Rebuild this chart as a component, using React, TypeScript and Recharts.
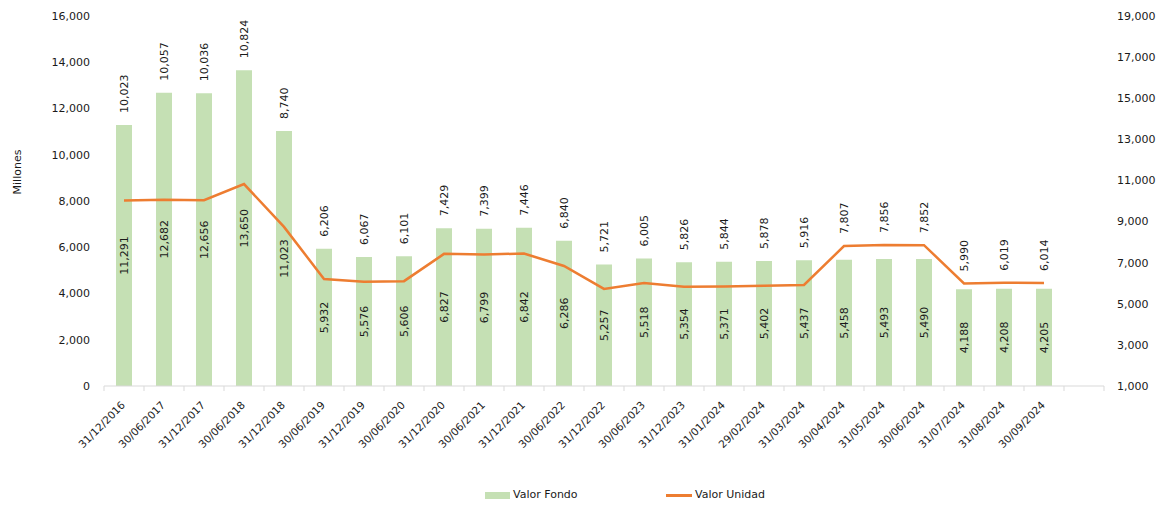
import React from 'react';
import { ComposedChart, Bar, Line, XAxis, YAxis, LabelList, Legend } from 'recharts';

const categories = [
  '31/12/2016', '30/06/2017', '31/12/2017', '30/06/2018', '31/12/2018', '30/06/2019',
  '31/12/2019', '30/06/2020', '31/12/2020', '30/06/2021', '31/12/2021', '30/06/2022',
  '31/12/2022', '30/06/2023', '31/12/2023', '31/01/2024', '29/02/2024', '31/03/2024',
  '30/04/2024', '31/05/2024', '30/06/2024', '31/07/2024', '31/08/2024', '30/09/2024', '',
];
const valorFondo = [
  11291, 12682, 12656, 13650, 11023, 5932, 5576, 5606, 6827, 6799, 6842, 6286,
  5257, 5518, 5354, 5371, 5402, 5437, 5458, 5493, 5490, 4188, 4208, 4205,
];
const valorUnidad = [
  10023, 10057, 10036, 10824, 8740, 6206, 6067, 6101, 7429, 7399, 7446, 6840,
  5721, 6005, 5826, 5844, 5878, 5916, 7807, 7856, 7852, 5990, 6019, 6014,
];
const leftTicks = [0, 2000, 4000, 6000, 8000, 10000, 12000, 14000, 16000];
const rightTicks = [1000, 3000, 5000, 7000, 9000, 11000, 13000, 15000, 17000, 19000];

const data = categories.map((c, i) => ({
  name: c,
  fondo: valorFondo[i],
  unidad: valorUnidad[i],
}));

const W = 1166;
const H = 508;
const TOP = 16;
const LEFT_W = 104;
const RIGHT_W = 62;
const XAXIS_H = 82;
const LEGEND_H = 40;
const PLOT_W = W - LEFT_W - RIGHT_W;
const PLOT_BOTTOM = H - XAXIS_H - LEGEND_H;
const PLOT_H = PLOT_BOTTOM - TOP;
const BAND = PLOT_W / categories.length;
const LEFT_MAX = leftTicks[leftTicks.length - 1];

const FONT = '"DejaVu Sans", Verdana, sans-serif';
const TEXT = '#1a1a1a';
const fmt = (v: number) => v.toLocaleString('en-US');

const XTick = (props: any) => {
  const { x, y, payload, index } = props;
  const half = BAND / 2;
  return (
    <g>
      <line x1={x - half} x2={x - half} y1={y} y2={y + 5} stroke="#D9D9D9" />
      {index === categories.length - 1 && (
        <line x1={x + half} x2={x + half} y1={y} y2={y + 5} stroke="#D9D9D9" />
      )}
      {payload.value !== '' && (
        <text
          transform={`translate(${x - 1},${y + 17}) rotate(-45)`}
          textAnchor="end"
          dominantBaseline="central"
          fontSize={10.5}
          fill={TEXT}
          fontFamily={FONT}
        >
          {payload.value}
        </text>
      )}
    </g>
  );
};

const BarLabel = (props: any) => {
  const { x, y, width, height, value } = props;
  if (value == null) return null;
  return (
    <text
      transform={`translate(${x + width / 2},${y + height / 2}) rotate(-90)`}
      textAnchor="middle"
      dominantBaseline="central"
      fontSize={11}
      fill={TEXT}
      fontFamily={FONT}
    >
      {fmt(value)}
    </text>
  );
};

const LineLabel = (props: any) => {
  const { x, y, value, index } = props;
  if (value == null) return null;
  const barTop = PLOT_BOTTOM - (valorFondo[index] / LEFT_MAX) * PLOT_H;
  const bottom = Math.min(y, barTop) - 12;
  return (
    <text
      transform={`translate(${x},${bottom}) rotate(-90)`}
      textAnchor="start"
      dominantBaseline="central"
      fontSize={11}
      fill={TEXT}
      fontFamily={FONT}
    >
      {fmt(value)}
    </text>
  );
};

const MillonesLabel = (props: any) => {
  const vb = props.viewBox || { x: 0, y: TOP };
  return (
    <text
      transform={`translate(${vb.x + 17},${vb.y + 156}) rotate(-90)`}
      textAnchor="middle"
      dominantBaseline="central"
      fontSize={11}
      fill={TEXT}
      fontFamily={FONT}
    >
      Millones
    </text>
  );
};

const LegendContent = () => (
  <div style={{ position: 'relative', width: W, height: LEGEND_H, fontFamily: FONT, fontSize: 11, color: TEXT }}>
    <div style={{ position: 'absolute', left: 485, top: 24, width: 25, height: 7, background: '#C5E0B4' }} />
    <div style={{ position: 'absolute', left: 513, top: 20, lineHeight: '14px' }}>Valor Fondo</div>
    <div style={{ position: 'absolute', left: 666, top: 26, width: 26, height: 3, background: '#ED7D31' }} />
    <div style={{ position: 'absolute', left: 695, top: 20, lineHeight: '14px' }}>Valor Unidad</div>
  </div>
);

export default function App() {
  return (
    <div style={{ position: 'absolute', left: 0, top: 0, width: W, height: H, background: '#fff' }}>
      <ComposedChart
        width={W}
        height={H}
        data={data}
        margin={{ top: TOP, right: 0, left: 0, bottom: 0 }}
        barCategoryGap={0}
        style={{ fontFamily: FONT }}
      >
        <XAxis
          dataKey="name"
          interval={0}
          height={XAXIS_H}
          axisLine={{ stroke: '#D9D9D9' }}
          tickLine={false}
          tickSize={0}
          tickMargin={0}
          tick={<XTick />}
        />
        <YAxis
          yAxisId="left"
          orientation="left"
          width={LEFT_W}
          domain={[0, LEFT_MAX]}
          ticks={leftTicks}
          interval={0}
          axisLine={false}
          tickLine={false}
          tickSize={0}
          tickMargin={14}
          tickFormatter={fmt}
          tick={{ fontSize: 11, fill: TEXT, fontFamily: FONT }}
          label={<MillonesLabel />}
        />
        <YAxis
          yAxisId="right"
          orientation="right"
          width={RIGHT_W}
          domain={[1000, 19000]}
          ticks={rightTicks}
          interval={0}
          axisLine={false}
          tickLine={false}
          tickSize={0}
          tickMargin={13}
          tickFormatter={fmt}
          tick={{ fontSize: 11, fill: TEXT, fontFamily: FONT }}
        />
        <Legend verticalAlign="bottom" height={LEGEND_H} content={<LegendContent />} wrapperStyle={{ left: 0, width: W, height: LEGEND_H }} />
        <Bar yAxisId="left" dataKey="fondo" name="Valor Fondo" fill="#C5E0B4" barSize={16} isAnimationActive={false}>
          <LabelList dataKey="fondo" content={<BarLabel />} />
        </Bar>
        <Line
          yAxisId="right"
          dataKey="unidad"
          name="Valor Unidad"
          stroke="#ED7D31"
          strokeWidth={2.5}
          dot={false}
          activeDot={false}
          isAnimationActive={false}
        >
          <LabelList dataKey="unidad" content={<LineLabel />} />
        </Line>
      </ComposedChart>
    </div>
  );
}
